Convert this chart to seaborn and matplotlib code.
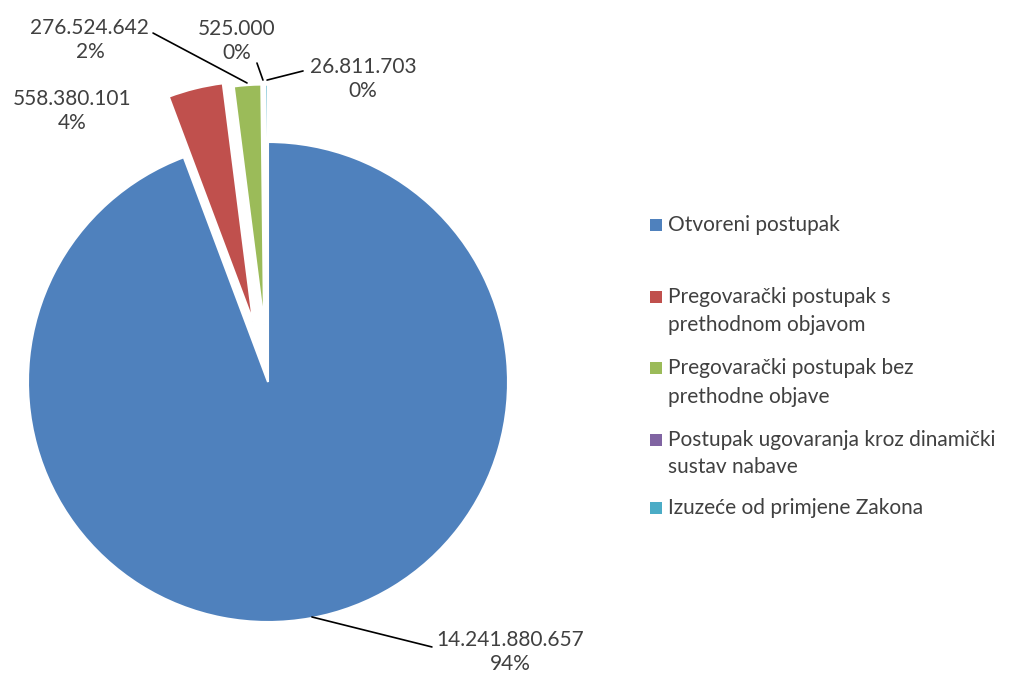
import matplotlib
matplotlib.use("Agg")
import matplotlib.pyplot as plt
from matplotlib.patches import Rectangle
import seaborn as sns

sns.set_theme(style="white")
plt.rcParams['font.family'] = ['Lato', 'DejaVu Sans']

categories = [
    "Otvoreni postupak",
    "Pregovarački postupak s\nprethodnom objavom",
    "Pregovarački postupak bez\nprethodne objave",
    "Postupak ugovaranja kroz dinamički\nsustav nabave",
    "Izuzeće od primjene Zakona",
]
values = [14241880657, 558380101, 276524642, 525000, 26811703]
value_labels = ["14.241.880.657", "558.380.101", "276.524.642", "525.000", "26.811.703"]
pct_labels = ["94%", "4%", "2%", "0%", "0%"]
colors = ["#4F81BD", "#C0504D", "#9BBB59", "#8064A2", "#4BACC6"]
explode = [0, 0.26, 0.24, 0.24, 0.24]

W, H = 1017, 677
fig = plt.figure(figsize=(W / 100, H / 100), dpi=100)
ax = fig.add_axes([-116 / W, (H - 766) / H, 768 / W, 768 / H])
wedges, _ = ax.pie(values, colors=colors, startangle=90, counterclock=False,
                   explode=explode, radius=1.0,
                   wedgeprops=dict(edgecolor="white", linewidth=1.5))
ax.set_xlim(-1.6, 1.6)
ax.set_ylim(-1.6, 1.6)
ax.set_aspect("equal")
ax.axis("off")

txt_color = "#404040"
fs = 15
label_pos = [(1.01, -1.125), (-0.817, 1.129), (-0.742, 1.425), (-0.129, 1.421), (0.396, 1.2625)]
leaders = [
    [(0.183, -0.979), (0.683, -1.104)],
    None,
    [(-0.0875, 1.246), (-0.479, 1.454)],
    [(-0.021, 1.258), (-0.046, 1.329)],
    [(-0.004, 1.258), (0.146, 1.296)],
]
for i in range(len(values)):
    x, y = label_pos[i]
    ax.text(x, y, value_labels[i] + "\n" + pct_labels[i], ha="center", va="center",
            fontsize=fs, color=txt_color, linespacing=1.3)
    if leaders[i] is not None:
        (x0, y0), (x1, y1) = leaders[i]
        ax.plot([x0, x1], [y0, y1], color="black", lw=1.2, clip_on=False)

# legend (drawn manually to match irregular spacing)
leg_y = [[225], [297, 325], [368, 397], [440, 467], [508]]
for i, cat in enumerate(categories):
    lines = cat.split("\n")
    y0 = leg_y[i][0]
    fig.patches.append(Rectangle(((650) / W, 1 - (y0 + 6) / H), 12 / W, 12 / H,
                                 transform=fig.transFigure, facecolor=colors[i],
                                 edgecolor="none", figure=fig))
    for ln, yy in zip(lines, leg_y[i]):
        fig.text(668 / W, 1 - yy / H, ln, ha="left", va="center",
                 fontsize=fs, color=txt_color)

fig.savefig("out.png", dpi=100, facecolor="white")
